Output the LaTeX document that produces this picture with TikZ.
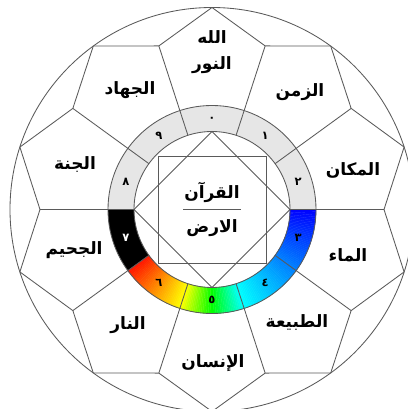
\documentclass[tikz,border=0pt]{standalone}
\usepackage{fontspec}
\newfontfamily\arabicfont[Script=Arabic]{DejaVu Sans}
\TeXXeTstate=1
\definecolor{linegray}{RGB}{90,90,90}
\definecolor{ringgray}{RGB}{230,230,230}
\begin{document}
\begin{tikzpicture}[x=1pt,y=1pt,
  line/.style={draw=linegray, line width=0.85pt},
  word/.style={font=\arabicfont\bfseries\fontsize{17}{19}\selectfont, inner sep=0pt},
  digit/.style={font=\arabicfont\bfseries\fontsize{11.5}{12}\selectfont, inner sep=0pt}]
\useasboundingbox (-212,-199.5) rectangle (195,209.5);
\fill[white] (-212,-199.5) rectangle (195,209.5);
% ring: gray upper half
\fill[ringgray] (0:104) arc[start angle=0,end angle=180,radius=104] -- (180:78) arc[start angle=180,end angle=0,radius=78] -- cycle;
% black segment
\fill[black] (180:104) arc[start angle=180,end angle=216,radius=104] -- (216:78) arc[start angle=216,end angle=180,radius=78] -- cycle;
% spectrum segments
\foreach \t in {0,...,143} {
  \pgfmathsetmacro\h{(\t+0.5)<72 ? 240-(\t+0.5)*60/72 : ((\t+0.5)<108 ? 180-(\t+0.5-72)*120/36 : max(0,60-(\t+0.5-108)*55/36))}
  \definecolor{wchsb}{Hsb}{\h,1,1}
  \colorlet{wc}[rgb]{wchsb}
  \fill[wc, draw=wc, line width=0.3pt] (-\t:78) arc[start angle=-\t, end angle=-\t-1, radius=78] -- (-\t-1:104) arc[start angle=-\t-1, end angle=-\t, radius=104] -- cycle;
}
% circles
\draw[line] (0,0) circle[radius=104];
\draw[line] (0,0) circle[radius=78];
\draw[line] (0,0) circle[radius=202];
% radial lines and outer polygon
\foreach \k in {0,...,9} {
  \draw[line] (36*\k:78) -- (36*\k:172);
  \draw[line] (36*\k+18:202) -- (36*\k:172) -- (36*\k-18:202);
}
% square and diamond
\draw[line] (-54,-53.5) rectangle (54,53.5);
\draw[line] (0,78) -- (78,0) -- (0,-78) -- (-78,0) -- cycle;
% center
\node[word] (quran) at (0,17) {\beginR القرآن\endR};
\node[word] (ard) at (0,-19) {\beginR الارض\endR};
\coordinate (barL) at (-29,0);
\coordinate (barR) at (29,0);
\draw[line, line width=1pt] (barL) -- (barR);
% cell words
\node[word] (allah) at (0,172.5) {\beginR الله\endR};
\node[word] (nur) at (0,144.5) {\beginR النور\endR};
\node[word] (zaman) at (88,117.5) {\beginR الزمن\endR};
\node[word] (makan) at (141,39.5) {\beginR المكان\endR};
\node[word] (maa) at (136,-45.5) {\beginR الماء\endR};
\node[word] (tabia) at (85,-113.5) {\beginR الطبيعة\endR};
\node[word] (insan) at (1,-153.5) {\beginR الإنسان\endR};
\node[word] (nar) at (-84,-115.5) {\beginR النار\endR};
\node[word] (jahim) at (-138,-40.5) {\beginR الجحيم\endR};
\node[word] (janna) at (-137,44.5) {\beginR الجنة\endR};
\node[word] (jihad) at (-82,119.5) {\beginR الجهاد\endR};
% digits
\node[digit] (d0) at (90:90.5) {٠};
\node[digit] (d1) at (54:90.5) {١};
\node[digit] (d2) at (18:90.5) {٢};
\node[digit] (d3) at (-18:90.5) {٣};
\node[digit] (d4) at (-54:90.5) {٤};
\node[digit] (d5) at (-90:90.5) {٥};
\node[digit] (d6) at (-126:90.5) {٦};
\node[digit, text=white] (d7) at (-162:90.5) {٧};
\node[digit] (d8) at (162:90.5) {٨};
\node[digit] (d9) at (126:90.5) {٩};
\end{tikzpicture}
\end{document}
